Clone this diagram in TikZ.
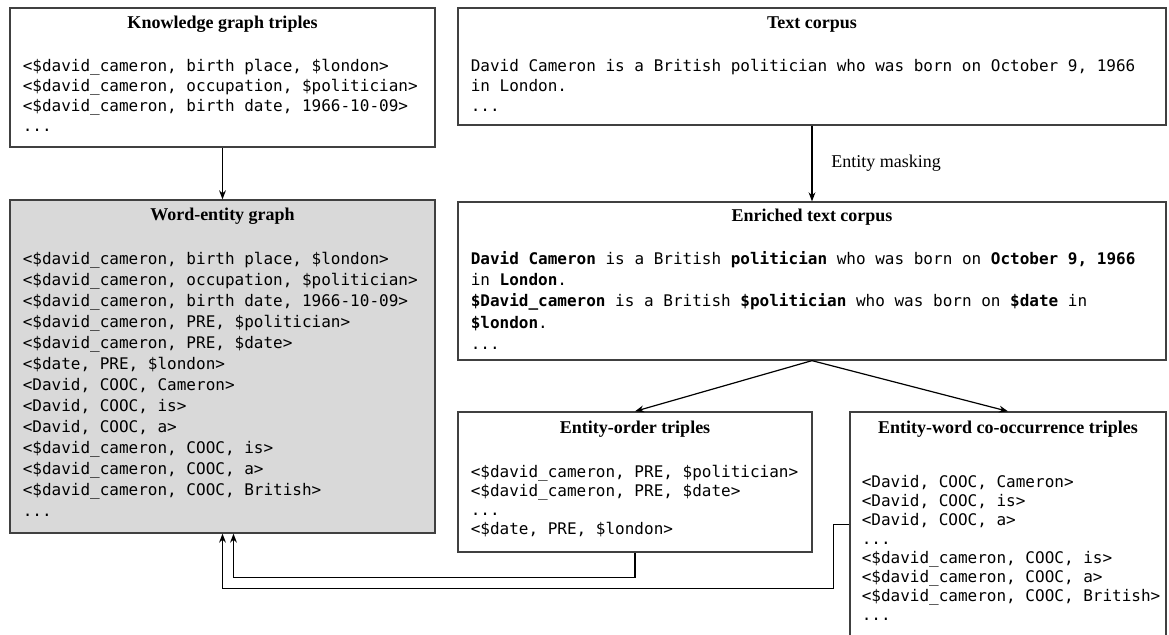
\documentclass[tikz,border=0pt]{standalone}
\usepackage{fontspec}
\setmainfont{Liberation Serif}
\newfontfamily\codefont{DejaVu Sans Mono}
\usetikzlibrary{arrows.meta,fit,calc}
\definecolor{frame}{HTML}{404040}
\definecolor{shade}{HTML}{D9D9D9}

\begin{document}
\begin{tikzpicture}[x=0.5pt,y=-0.5pt,font=\fontsize{9}{11}\selectfont,
  box/.style={draw=frame, line width=0.65pt, inner sep=0pt},
  head/.style={font=\fontsize{9}{11}\selectfont\bfseries},
  code/.style={anchor=base west, inner sep=0pt, font=\fontsize{8}{10}\selectfont\codefont},
  link/.style={-{Stealth[length=4.5pt,width=3.4pt]}, line width=0.6pt}]
  \useasboundingbox (0,0) rectangle (1169,635);
  \node[box, fit={(10,8) (435,147)}] (kg) {};
  \node[box, fit={(458,8) (1166,125)}] (corpus) {};
  \node[box, fill=shade, fit={(10,200) (435,533)}] (graph) {};
  \node[box, fit={(458,202) (1166,360)}] (enriched) {};
  \node[box, fit={(458,412) (812,552)}] (order) {};
  \node[box, fit={(850,412) (1166,645)}] (cooc) {};

  \node[head] at ($(kg.north)+(0,17)$) {Knowledge graph triples};
  \node[head] at ($(corpus.north)+(0,17)$) {Text corpus};
  \node[head] at ($(graph.north)+(0,17)$) {Word-entity graph};
  \node[head] at ($(enriched.north)+(0,16)$) {Enriched text corpus};
  \node[head] at ($(order.north)+(0,18)$) {Entity-order triples};
  \node[head] at ($(cooc.north)+(0,18)$) {Entity-word co-occurrence triples};

  \foreach \i/\txt in {0/{<\$david\_cameron, birth place, \$london>}, 1/{<\$david\_cameron, occupation, \$politician>}, 2/{<\$david\_cameron, birth date, 1966-10-09>}, 3/{...}}
    \node[code] (kg-\i) at ($(kg.north west)+(13,64+20*\i)$) {\txt};
  \foreach \i/\txt in {0/{David Cameron is a British politician who was born on October 9, 1966}, 1/{in London.}, 2/{...}}
    \node[code] (corpus-\i) at ($(corpus.north west)+(13,64+20*\i)$) {\txt};
  \foreach \i/\txt in {0/{<\$david\_cameron, birth place, \$london>}, 1/{<\$david\_cameron, occupation, \$politician>}, 2/{<\$david\_cameron, birth date, 1966-10-09>}, 3/{<\$david\_cameron, PRE, \$politician>}, 4/{<\$david\_cameron, PRE, \$date>}, 5/{<\$date, PRE, \$london>}, 6/{<David, COOC, Cameron>}, 7/{<David, COOC, is>}, 8/{<David, COOC, a>}, 9/{<\$david\_cameron, COOC, is>}, 10/{<\$david\_cameron, COOC, a>}, 11/{<\$david\_cameron, COOC, British>}, 12/{...}}
    \node[code] (graph-\i) at ($(graph.north west)+(13,65+21*\i)$) {\txt};
  \foreach \i/\txt in {0/{\textbf{David Cameron} is a British \textbf{politician} who was born on \textbf{October 9, 1966}}, 1/{in \textbf{London}.}, 2/{\textbf{\$David\_cameron} is a British \textbf{\$politician} who was born on \textbf{\$date} in}, 3/{\textbf{\$london}.}, 4/{...}}
    \node[code] (enriched-\i) at ($(enriched.north west)+(13,63+21.3*\i)$) {\txt};
  \foreach \i/\txt in {0/{<\$david\_cameron, PRE, \$politician>}, 1/{<\$david\_cameron, PRE, \$date>}, 2/{...}, 3/{<\$date, PRE, \$london>}}
    \node[code] (order-\i) at ($(order.north west)+(13,66+19*\i)$) {\txt};
  \foreach \i/\txt in {0/{<David, COOC, Cameron>}, 1/{<David, COOC, is>}, 2/{<David, COOC, a>}, 3/{...}, 4/{<\$david\_cameron, COOC, is>}, 5/{<\$david\_cameron, COOC, a>}, 6/{<\$david\_cameron, COOC, British>}, 7/{...}}
    \node[code] (cooc-\i) at ($(cooc.north west)+(12,76+19*\i)$) {\txt};

  \draw[link] (kg) -- (graph);
  \draw[link] (corpus) -- node[anchor=west, xshift=6pt] (mask) {Entity masking} (enriched);
  \draw[link] (enriched.south) -- (order.north);
  \draw[link] (enriched.south) -- (cooc.north);
  \draw[link] (order.south) -- ++(0,25) -| ($(graph.south)+(11,0)$);
  \draw[link] ($(cooc.north west)+(0,113)$) -- ++(-16,0) -- ++(0,64) -| (graph.south);
\end{tikzpicture}
\end{document}
